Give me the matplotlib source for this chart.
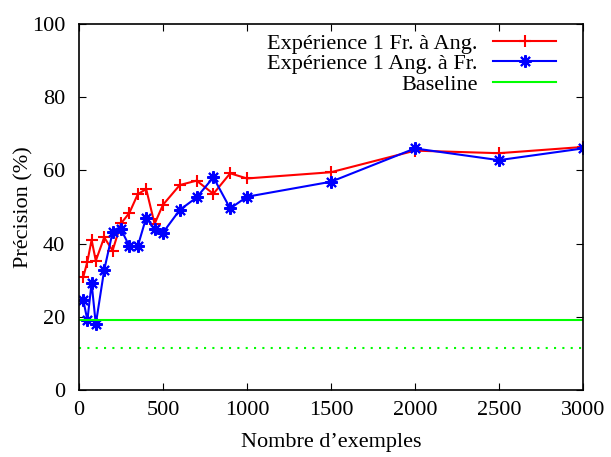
import matplotlib
matplotlib.use("Agg")
import matplotlib.pyplot as plt

x = [25, 50, 75, 100, 150, 200, 250, 300, 350, 400, 450, 500,
     600, 700, 800, 900, 1000, 1500, 2000, 2500, 3000]
fr_ang = [30.8, 35.1, 41.0, 35.3, 41.7, 38.1, 45.5, 48.4, 53.5, 54.9, 45.4, 50.6,
          56.0, 57.2, 53.6, 59.2, 57.8, 59.5, 65.4, 64.7, 66.4]
ang_fr = [24.6, 19.1, 29.2, 18.0, 32.8, 43.1, 43.9, 39.3, 39.3, 47.1, 43.9, 43.0,
          49.2, 52.6, 58.1, 49.6, 52.8, 56.9, 66.0, 62.8, 66.0]
baseline = 19.0
baseline2 = 11.6

labels = ["Expérience 1 Fr. à Ang.", "Expérience 1 Ang. à Fr.", "Baseline"]
xticks = [0, 500, 1000, 1500, 2000, 2500, 3000]
yticks = [0, 20, 40, 60, 80, 100]

plt.rcParams['font.family'] = ['Liberation Serif', 'DejaVu Serif']
fs = 16
plt.rcParams['font.size'] = fs

fig = plt.figure(figsize=(6.11, 4.57), dpi=100)
ax = fig.add_axes([0.1293, 0.1466, 0.8247, 0.8009])

ax.plot(x, fr_ang, color='#ff0000', lw=1.5, marker='+', ms=8, mew=1.5, label=labels[0])
ax.plot(x, ang_fr, color='#0000ff', lw=1.5, marker=(8, 2, 0), ms=9, mew=1.5, label=labels[1])
ax.axhline(baseline, color='#00ff00', lw=1.5, label=labels[2])
ax.axhline(baseline2, color='#00ff00', lw=1.5, ls=(0, (1, 3)))

ax.set_xlim(0, 3000)
ax.set_ylim(0, 100)
ax.set_xticks(xticks)
ax.set_yticks(yticks)
ax.tick_params(direction='in', length=5, top=True, right=True, labelsize=fs)
ax.tick_params(axis='y', pad=10)
ax.tick_params(axis='x', pad=8)
ax.set_xlabel("Nombre d’exemples", fontsize=fs, labelpad=9)
ax.set_ylabel("Précision (%)", fontsize=fs, labelpad=-1)
for s in ax.spines.values():
    s.set_linewidth(1.2)

ax.legend(loc='upper right', frameon=False, markerfirst=False, handlelength=2.8,
          fontsize=fs, labelspacing=0.0, borderaxespad=0, borderpad=0,
          handletextpad=0.7, bbox_to_anchor=(0.946, 0.975))

fig.savefig("out.png", dpi=100)
